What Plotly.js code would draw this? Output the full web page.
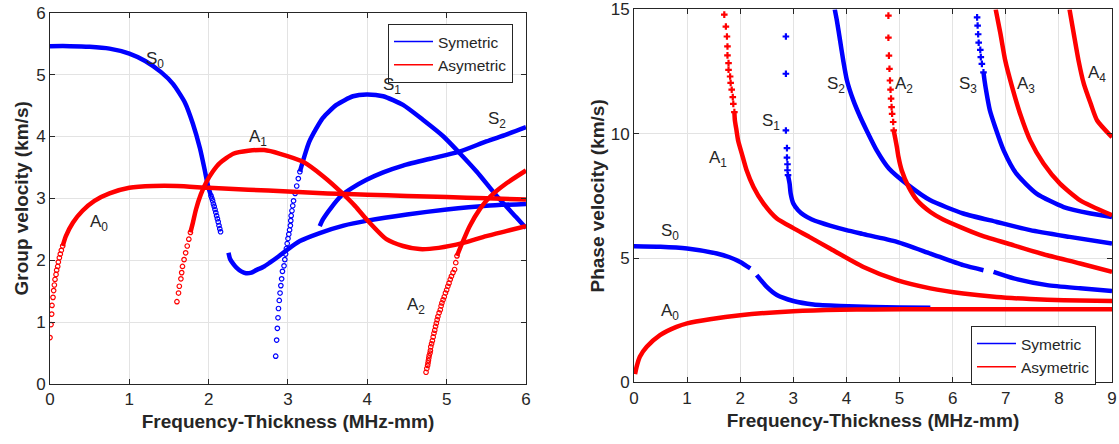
<!DOCTYPE html>
<html>
<head>
<meta charset="utf-8">
<script src="https://cdn.plot.ly/plotly-3.0.1.min.js"></script>
<style>html,body{margin:0;padding:0;background:#fff;}#chart{width:1119px;height:444px;}</style>
</head>
<body>
<div id="chart"></div>
<script>
// ---------------- Group velocity (left) ----------------
const gS0aX = [0, 0.25, 0.5, 0.75, 1.0, 1.2, 1.4, 1.55, 1.7, 1.8, 1.89, 1.95, 1.99, 2.03];
const gS0aY = [5.46, 5.46, 5.45, 5.42, 5.34, 5.22, 5.04, 4.85, 4.55, 4.21, 3.81, 3.46, 3.21, 3.04];
const gS0tX = [2.03, 2.04, 2.05, 2.06, 2.07, 2.08, 2.09, 2.10, 2.11, 2.12, 2.13, 2.14, 2.15];
const gS0tY = [3.04, 3.00, 2.96, 2.91, 2.87, 2.82, 2.77, 2.72, 2.67, 2.62, 2.56, 2.51, 2.46];
const gS0bX = [2.25, 2.27, 2.31, 2.35, 2.41, 2.47, 2.54, 2.6, 2.7, 2.77, 2.88, 2.98, 3.15, 3.4, 3.7, 4.0, 4.5, 5.0, 5.5, 6.0];
const gS0bY = [2.12, 2.02, 1.94, 1.88, 1.82, 1.79, 1.80, 1.84, 1.90, 1.96, 2.06, 2.16, 2.31, 2.44, 2.56, 2.64, 2.74, 2.82, 2.88, 2.91];
const gS1cX = [2.845, 2.857, 2.866, 2.874, 2.88, 2.89, 2.9, 2.91, 2.92, 2.93, 2.95, 2.96, 2.97, 2.98, 2.99, 3.0, 3.01, 3.02, 3.03, 3.035, 3.04, 3.05, 3.06, 3.07, 3.09, 3.11, 3.13, 3.15];
const gS1cY = [0.45, 0.71, 0.90, 1.07, 1.22, 1.35, 1.47, 1.59, 1.70, 1.82, 1.91, 2.01, 2.10, 2.19, 2.27, 2.35, 2.42, 2.49, 2.56, 2.64, 2.72, 2.80, 2.88, 2.96, 3.08, 3.20, 3.32, 3.43];
const gS1X = [3.15, 3.27, 3.44, 3.61, 3.82, 3.99, 4.2, 4.45, 4.7, 4.96, 5.15, 5.38, 5.63, 5.88, 6.0];
const gS1Y = [3.43, 3.92, 4.30, 4.51, 4.65, 4.68, 4.65, 4.51, 4.27, 4.00, 3.75, 3.43, 3.04, 2.69, 2.52];
const gS2X = [3.4, 3.44, 3.55, 3.67, 3.8, 3.99, 4.2, 4.45, 4.79, 5.15, 5.5, 5.75, 6.0];
const gS2Y = [2.55, 2.66, 2.86, 3.04, 3.16, 3.30, 3.42, 3.53, 3.64, 3.75, 3.92, 4.03, 4.15];
const gA0cX = [0.0, 0.013, 0.021, 0.025, 0.038, 0.046, 0.055, 0.063, 0.076, 0.084, 0.097, 0.105, 0.118, 0.13, 0.143, 0.16];
const gA0cY = [0.75, 0.96, 1.13, 1.27, 1.40, 1.51, 1.60, 1.69, 1.77, 1.84, 1.90, 1.97, 2.04, 2.10, 2.16, 2.23];
const gA0X = [0.16, 0.2, 0.29, 0.41, 0.56, 0.75, 1.0, 1.3, 1.6, 2.0, 2.5, 3.0, 3.5, 4.0, 4.5, 5.0, 5.5, 6.0];
const gA0Y = [2.23, 2.39, 2.61, 2.80, 2.96, 3.08, 3.17, 3.20, 3.20, 3.17, 3.14, 3.11, 3.08, 3.06, 3.04, 3.02, 3.00, 2.98];
const gA1cX = [1.60, 1.62, 1.63, 1.65, 1.66, 1.67, 1.69, 1.71, 1.73, 1.75, 1.77];
const gA1cY = [1.33, 1.47, 1.58, 1.70, 1.80, 1.90, 2.01, 2.12, 2.23, 2.34, 2.45];
const gA1X = [1.77, 1.80, 1.84, 1.9, 1.97, 2.05, 2.14, 2.31, 2.5, 2.7, 2.9, 3.19, 3.45, 3.67, 3.85, 3.99, 4.24, 4.45, 4.66, 4.9, 5.21, 5.5, 5.75, 6.0];
const gA1Y = [2.45, 2.60, 2.82, 3.06, 3.26, 3.43, 3.57, 3.72, 3.77, 3.78, 3.72, 3.59, 3.35, 3.10, 2.87, 2.66, 2.34, 2.23, 2.18, 2.20, 2.28, 2.39, 2.47, 2.55];
const gA2cX = [4.74, 4.75, 4.76, 4.765, 4.77, 4.775, 4.78, 4.79, 4.795, 4.80, 4.81, 4.82, 4.83, 4.84, 4.85, 4.86, 4.87, 4.88, 4.89, 4.905, 4.92, 4.93, 4.94, 4.955, 4.97, 4.985, 5.0, 5.015, 5.03, 5.045, 5.06, 5.08, 5.1, 5.115, 5.13];
const gA2cY = [0.19, 0.25, 0.30, 0.34, 0.38, 0.42, 0.46, 0.50, 0.54, 0.60, 0.65, 0.70, 0.76, 0.82, 0.87, 0.93, 0.98, 1.04, 1.09, 1.15, 1.20, 1.26, 1.31, 1.36, 1.41, 1.47, 1.52, 1.58, 1.63, 1.69, 1.74, 1.80, 1.85, 1.96, 2.07];
const gA2X = [5.13, 5.19, 5.29, 5.42, 5.55, 5.75, 6.0];
const gA2Y = [2.07, 2.26, 2.55, 2.83, 3.03, 3.24, 3.45];

// ---------------- Phase velocity (right) ----------------
const pS0aX = [0, 0.5, 1.0, 1.56, 1.8, 2.0, 2.19];
const pS0aY = [5.47, 5.45, 5.38, 5.18, 5.03, 4.84, 4.58];
const pS0bX = [2.31, 2.5, 2.69, 3.0, 3.38, 3.88, 4.5, 5.0, 5.58];
const pS0bY = [4.31, 3.84, 3.51, 3.27, 3.13, 3.07, 3.03, 3.01, 3.0];
const pS1cX = [2.86, 2.86, 2.86, 2.88, 2.88, 2.89, 2.89, 2.9];
const pS1cY = [13.91, 12.41, 10.13, 9.42, 9.04, 8.77, 8.53, 8.33];
const pS1X = [2.9, 2.93, 2.95, 3.0, 3.09, 3.2, 3.35, 3.5, 3.69, 4.0, 4.3, 4.95, 5.58, 6.2, 6.58];
const pS1Y = [8.33, 7.99, 7.59, 7.19, 6.92, 6.72, 6.55, 6.43, 6.3, 6.12, 5.97, 5.65, 5.18, 4.71, 4.51];
const pS1bX = [6.77, 7.15, 7.78, 8.4, 9.0];
const pS1bY = [4.44, 4.18, 3.91, 3.78, 3.67];
const pS2X = [3.78, 3.82, 3.88, 3.94, 4.01, 4.13, 4.26, 4.38, 4.57, 4.8, 5.17, 5.58, 6.2, 6.83, 7.46, 8.2, 9.0];
const pS2Y = [15.0, 14.55, 13.75, 12.94, 12.14, 11.34, 10.67, 10.13, 9.33, 8.6, 7.92, 7.32, 6.79, 6.45, 6.12, 5.85, 5.58];
const pS3cX = [6.46, 6.47, 6.48, 6.49, 6.52, 6.53, 6.55, 6.58];
const pS3cY = [14.68, 14.35, 14.0, 13.66, 13.37, 13.08, 12.81, 12.47];
const pS3X = [6.58, 6.6, 6.64, 6.7, 6.8, 6.96, 7.2, 7.58, 8.09, 8.6, 9.0];
const pS3Y = [12.47, 12.14, 11.61, 10.94, 10.27, 9.33, 8.39, 7.59, 7.05, 6.79, 6.65];
const pA0X = [0.02, 0.05, 0.11, 0.24, 0.49, 0.8, 1.0, 1.43, 2.0, 3.0, 3.88, 4.5, 5.58, 7.0, 9.0];
const pA0Y = [0.33, 0.63, 1.03, 1.43, 1.90, 2.23, 2.37, 2.54, 2.70, 2.86, 2.92, 2.93, 2.94, 2.94, 2.94];
const pA1cX = [1.70, 1.73, 1.75, 1.76, 1.76, 1.78, 1.78, 1.81, 1.82, 1.84, 1.86, 1.87, 1.89];
const pA1cY = [14.79, 14.31, 13.91, 13.51, 13.15, 12.84, 12.57, 12.3, 12.04, 11.77, 11.47, 11.2, 10.87];
const pA1X = [1.89, 1.90, 1.93, 1.96, 2.03, 2.12, 2.25, 2.44, 2.69, 3.0, 3.3, 3.69, 4.32, 4.95, 5.58, 6.2, 6.83, 7.46, 8.09, 9.0];
const pA1Y = [10.87, 10.53, 10.13, 9.73, 9.2, 8.53, 7.86, 7.19, 6.59, 6.2, 5.85, 5.38, 4.64, 4.11, 3.78, 3.57, 3.43, 3.35, 3.3, 3.27];
const pA2cX = [4.79, 4.79, 4.80, 4.81, 4.82, 4.83, 4.84, 4.85, 4.86, 4.88, 4.89];
const pA2cY = [14.75, 13.86, 13.14, 12.61, 12.14, 11.77, 11.41, 11.07, 10.8, 10.47, 10.13];
const pA2X = [4.89, 4.92, 4.95, 4.98, 5.04, 5.17, 5.33, 5.58, 5.82, 6.52, 7.15, 7.78, 8.4, 9.0];
const pA2Y = [10.13, 9.8, 9.46, 9.06, 8.53, 7.86, 7.32, 6.85, 6.55, 5.92, 5.51, 5.11, 4.78, 4.44];
const pA3X = [6.81, 6.9, 6.99, 7.12, 7.27, 7.46, 7.71, 8.02, 8.4, 9.0];
const pA3Y = [15.0, 14.02, 12.94, 11.87, 10.8, 9.73, 8.8, 7.99, 7.32, 6.72];
const pA4X = [8.2, 8.28, 8.37, 8.47, 8.6, 8.72, 9.0];
const pA4Y = [15.0, 14.02, 12.94, 12.0, 11.2, 10.53, 9.86];

// labels
const gLabels = [["S<sub>0</sub>",1.32,5.24],["S<sub>1</sub>",4.31,4.82],["S<sub>2</sub>",5.63,4.26],["A<sub>0</sub>",0.62,2.6],["A<sub>1</sub>",2.62,3.98],["A<sub>2</sub>",4.61,1.26]];
const pLabels = [["S<sub>0</sub>",0.68,6.04],["A<sub>0</sub>",0.68,2.83],["A<sub>1</sub>",1.58,8.97],["S<sub>1</sub>",2.58,10.49],["S<sub>2</sub>",3.81,11.94],["A<sub>2</sub>",5.09,11.94],["S<sub>3</sub>",6.29,11.94],["A<sub>3</sub>",7.39,11.94],["A<sub>4</sub>",8.71,12.42]];
const legendNames = ["Symetric", "Asymetric"];

const BLUE = '#0000ff', RED = '#ff0000', INK = '#262626';
const FONT = 'Liberation Sans, Arial, Helvetica, sans-serif';
const LW = 4.5;

function lineT(x, y, c, ax) {
  return {x: x, y: y, mode: 'lines', line: {color: c, width: LW, shape: 'spline', smoothing: 0.6},
          xaxis: ax[0], yaxis: ax[1], showlegend: false, hoverinfo: 'skip'};
}
function circT(x, y, c, ax) {
  return {x: x, y: y, mode: 'markers', marker: {symbol: 'circle-open', size: 4.5, color: c, line: {width: 1.2, color: c}},
          xaxis: ax[0], yaxis: ax[1], showlegend: false, hoverinfo: 'skip'};
}
function crossT(x, y, c, ax) {
  return {x: x, y: y, mode: 'markers', marker: {symbol: 'cross', size: 5.5, color: c, line: {width: 0}},
          xaxis: ax[0], yaxis: ax[1], showlegend: false, hoverinfo: 'skip'};
}
const L = ['x', 'y'], R = ['x2', 'y2'];
const traces = [
  lineT(gS0aX, gS0aY, BLUE, L), circT(gS0tX, gS0tY, BLUE, L), lineT(gS0bX, gS0bY, BLUE, L),
  circT(gS1cX, gS1cY, BLUE, L), lineT(gS1X, gS1Y, BLUE, L), lineT(gS2X, gS2Y, BLUE, L),
  circT(gA0cX, gA0cY, RED, L), lineT(gA0X, gA0Y, RED, L),
  circT(gA1cX, gA1cY, RED, L), lineT(gA1X, gA1Y, RED, L),
  circT(gA2cX, gA2cY, RED, L), lineT(gA2X, gA2Y, RED, L),
  lineT(pS0aX, pS0aY, BLUE, R), lineT(pS0bX, pS0bY, BLUE, R),
  crossT(pS1cX, pS1cY, BLUE, R), lineT(pS1X, pS1Y, BLUE, R), lineT(pS1bX, pS1bY, BLUE, R),
  lineT(pS2X, pS2Y, BLUE, R), crossT(pS3cX, pS3cY, BLUE, R), lineT(pS3X, pS3Y, BLUE, R),
  lineT(pA0X, pA0Y, RED, R), crossT(pA1cX, pA1cY, RED, R), lineT(pA1X, pA1Y, RED, R),
  crossT(pA2cX, pA2cY, RED, R), lineT(pA2X, pA2Y, RED, R),
  lineT(pA3X, pA3Y, RED, R), lineT(pA4X, pA4Y, RED, R),
  {x: [null], y: [null], mode: 'lines', name: legendNames[0], line: {color: BLUE, width: 1.5}, xaxis: 'x', yaxis: 'y', legend: 'legend'},
  {x: [null], y: [null], mode: 'lines', name: legendNames[1], line: {color: RED, width: 1.5}, xaxis: 'x', yaxis: 'y', legend: 'legend'},
  {x: [null], y: [null], mode: 'lines', name: legendNames[0], line: {color: BLUE, width: 1.5}, xaxis: 'x2', yaxis: 'y2', legend: 'legend2'},
  {x: [null], y: [null], mode: 'lines', name: legendNames[1], line: {color: RED, width: 1.5}, xaxis: 'x2', yaxis: 'y2', legend: 'legend2'}
];

function axis(range, dtick, domain, title, anchor, standoff) {
  return {
    range: range, dtick: dtick, domain: domain, anchor: anchor,
    showline: true, linecolor: INK, linewidth: 1, mirror: 'allticks',
    ticks: 'inside', ticklen: 5, tickcolor: INK, tickwidth: 1,
    showgrid: true, gridcolor: '#e3e3e3', gridwidth: 1, zeroline: false,
    tickfont: {family: FONT, size: 17, color: INK}, ticklabeloverflow: 'allow',
    title: {text: '<b>' + title + '</b>', font: {family: FONT, size: 19, color: INK}, standoff: standoff},
    automargin: false, fixedrange: true
  };
}

const annotations = [];
gLabels.forEach(l => annotations.push({x: l[1], y: l[2], xref: 'x', yref: 'y', text: l[0], showarrow: false,
  font: {family: FONT, size: 17, color: INK}, xanchor: 'center', yanchor: 'middle'}));
pLabels.forEach(l => annotations.push({x: l[1], y: l[2], xref: 'x2', yref: 'y2', text: l[0], showarrow: false,
  font: {family: FONT, size: 17, color: INK}, xanchor: 'center', yanchor: 'middle'}));

const legendStyle = {bgcolor: '#ffffff', bordercolor: INK, borderwidth: 1, font: {family: FONT, size: 15.5, color: INK},
  xanchor: 'left', yanchor: 'top', xref: 'paper', yref: 'paper', tracegroupgap: 0, itemwidth: 39};

const layout = {
  width: 1119, height: 444,
  margin: {l: 50, r: 7, t: 9, b: 60},
  paper_bgcolor: '#ffffff', plot_bgcolor: '#ffffff',
  font: {family: FONT, color: INK},
  xaxis: axis([0, 6], 1, [0, 0.4482], 'Frequency-Thickness (MHz-mm)', 'y', 6),
  yaxis: axis([0, 6], 1, [0, 0.9901], 'Group velocity (km/s)', 'x', 2),
  xaxis2: axis([0, 9], 1, [0.5499, 1], 'Frequency-Thickness (MHz-mm)', 'y2', 6),
  yaxis2: axis([0, 15], 5, [0.0045, 0.999], 'Phase velocity (km/s)', 'x2', 1),
  legend: Object.assign({}, legendStyle, {x: (388 - 50) / 1062, y: (384 - 24) / 375}),
  legend2: Object.assign({}, legendStyle, {x: (971 - 50) / 1062, y: (384 - 326) / 375}),
  annotations: annotations,
  showlegend: true
};

Plotly.newPlot('chart', traces, layout, {staticPlot: true, displayModeBar: false});
</script>
</body>
</html>
